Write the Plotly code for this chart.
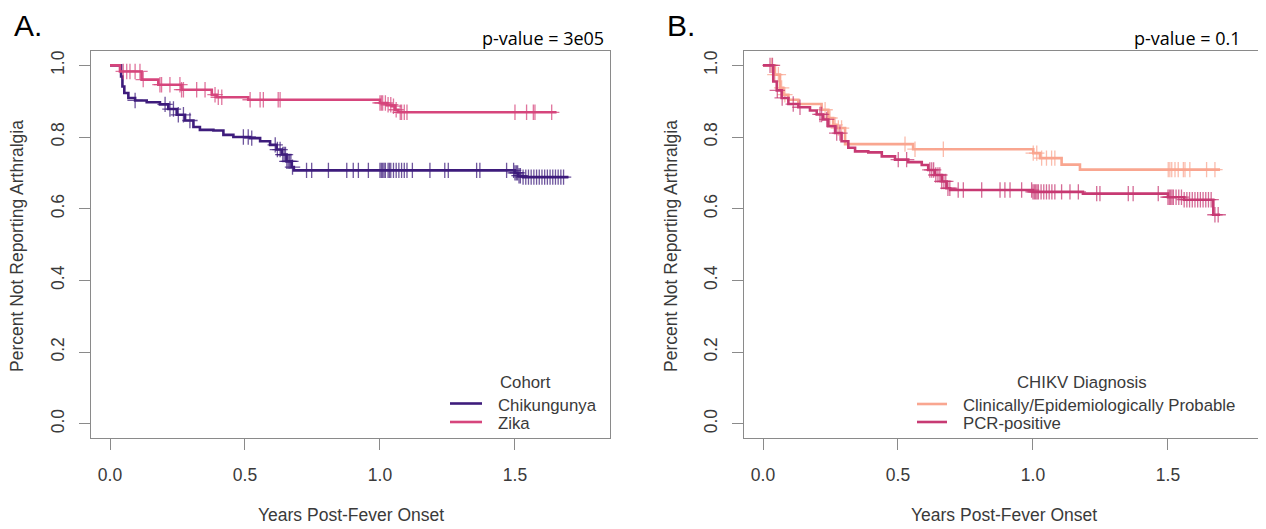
import plotly.graph_objects as go
import bisect

# ---------------- Panel A data (Cohort) ----------------
chik_t = [0.0, 0.037, 0.041, 0.046, 0.053, 0.068, 0.093, 0.136, 0.185, 0.216, 0.247, 0.278,
          0.309, 0.333, 0.383, 0.420, 0.457, 0.519, 0.556, 0.593, 0.617, 0.636, 0.654, 0.673,
          0.681, 1.500, 1.512, 1.530, 1.698]
chik_s = [1.0, 1.0, 0.969, 0.941, 0.923, 0.909, 0.902, 0.897, 0.891, 0.878, 0.862, 0.846,
          0.828, 0.820, 0.818, 0.806, 0.800, 0.797, 0.788, 0.778, 0.765, 0.751, 0.732, 0.716,
          0.707, 0.700, 0.692, 0.688, 0.688]
chik_cens = [0.093, 0.204, 0.222, 0.235, 0.253, 0.272, 0.296, 0.494, 0.512, 0.525,
             0.612, 0.620, 0.630, 0.640, 0.645, 0.650, 0.655, 0.660, 0.665, 0.670, 0.676,
             0.728, 0.747, 0.809, 0.877, 0.901, 0.920, 0.957,
             1.000, 1.005, 1.010, 1.015, 1.020, 1.030, 1.035, 1.040, 1.050, 1.060, 1.070,
             1.080, 1.090, 1.100, 1.120, 1.185, 1.240, 1.253, 1.358, 1.370, 1.469,
             1.495, 1.500, 1.505, 1.510, 1.515, 1.520, 1.530, 1.540, 1.550, 1.560, 1.570,
             1.580, 1.590, 1.600, 1.610, 1.620, 1.630, 1.640, 1.650, 1.660, 1.670, 1.680]

zika_t = [0.0, 0.037, 0.117, 0.179, 0.265, 0.377, 0.395, 0.512, 1.000, 1.025, 1.043, 1.056,
          1.068, 1.654]
zika_s = [1.0, 0.983, 0.960, 0.946, 0.932, 0.918, 0.911, 0.904, 0.895, 0.890, 0.886, 0.876,
          0.869, 0.869]
zika_cens = [0.049, 0.062, 0.074, 0.093, 0.111, 0.123, 0.185, 0.191, 0.222, 0.259, 0.265,
             0.272, 0.321, 0.352, 0.389, 0.401, 0.414, 0.519, 0.556, 0.568, 0.623, 0.630,
             1.000, 1.005, 1.010, 1.020, 1.030, 1.040, 1.050, 1.060, 1.075, 1.080, 1.090,
             1.100, 1.500, 1.543, 1.568, 1.574, 1.636]

# ---------------- Panel B data (CHIKV Diagnosis) ----------------
clin_t = [0.0, 0.038, 0.044, 0.063, 0.075, 0.094, 0.131, 0.217, 0.242, 0.260, 0.272, 0.304,
          0.556, 1.001, 1.026, 1.106, 1.174, 1.693]
clin_s = [1.0, 1.0, 0.974, 0.937, 0.918, 0.904, 0.892, 0.876, 0.853, 0.834, 0.825, 0.780,
          0.766, 0.755, 0.741, 0.723, 0.709, 0.709]
clin_cens = [0.032, 0.044, 0.057, 0.069, 0.081, 0.230, 0.248, 0.267, 0.279, 0.291, 0.526,
             0.563, 0.668, 1.001, 1.014, 1.032, 1.050, 1.069, 1.081, 1.501, 1.507, 1.514,
             1.526, 1.538, 1.557, 1.563, 1.581, 1.643, 1.674]

pcr_t = [0.0, 0.031, 0.038, 0.051, 0.069, 0.094, 0.131, 0.174, 0.199, 0.223, 0.242, 0.267,
         0.291, 0.316, 0.341, 0.390, 0.440, 0.489, 0.538, 0.588, 0.612, 0.637, 0.662, 0.680,
         0.693, 1.000, 1.185, 1.500, 1.560, 1.668, 1.693]
pcr_s = [1.0, 1.0, 0.955, 0.930, 0.909, 0.892, 0.883, 0.874, 0.863, 0.849, 0.830, 0.811,
         0.788, 0.770, 0.760, 0.757, 0.746, 0.737, 0.730, 0.722, 0.708, 0.694, 0.676, 0.657,
         0.652, 0.647, 0.642, 0.632, 0.625, 0.583, 0.583]
pcr_cens = [0.026, 0.035, 0.053, 0.071, 0.112, 0.137, 0.211, 0.217, 0.236, 0.273, 0.285,
            0.501, 0.532, 0.618, 0.625, 0.632, 0.640, 0.648, 0.655, 0.662, 0.670, 0.677,
            0.685, 0.692, 0.723, 0.742, 0.810, 0.878, 0.896, 0.915, 0.958,
            0.995, 1.000, 1.005, 1.010, 1.015, 1.020, 1.030, 1.040, 1.050, 1.060, 1.070,
            1.081, 1.106, 1.137, 1.168, 1.236, 1.248, 1.353, 1.371, 1.464,
            1.500, 1.505, 1.510, 1.515, 1.520, 1.530, 1.540, 1.550, 1.560, 1.570, 1.580,
            1.590, 1.600, 1.610, 1.620, 1.630, 1.640, 1.650, 1.660, 1.674, 1.686]

x_ticks = [0.0, 0.5, 1.0, 1.5]
x_tick_text = ["0.0", "0.5", "1.0", "1.5"]
y_ticks = [0.0, 0.2, 0.4, 0.6, 0.8, 1.0]
y_tick_text = ["0.0", "0.2", "0.4", "0.6", "0.8", "1.0"]

C_CHIK = "#3e1c7c"
C_ZIKA = "#d6457c"
C_CLIN = "#f9a690"
C_PCR = "#c73a73"

# page body has an 8px margin: figure is placed at (8, 8) in the 1266x529 window
OFF = 8
W, H = 1266 - OFF, 529 - OFF
FONT = "Liberation Sans, Arial, sans-serif"
TXT = "#3a3a3a"
GREY = "#8a8a8a"


def px(x):
    return (x - OFF) / W


def py(y):
    return (H - (y - OFF)) / H


def step_at(ts, ss, t):
    i = bisect.bisect_right(ts, t) - 1
    return ss[max(i, 0)]


def rgba(hexc, a):
    h = hexc.lstrip("#")
    return "rgba(%d,%d,%d,%.2f)" % (int(h[0:2], 16), int(h[2:4], 16), int(h[4:6], 16), a)


fig = go.Figure()


def add_curve(ts, ss, cens, color, name, xa, ya):
    fig.add_trace(go.Scatter(x=ts, y=ss, mode="lines", line=dict(color=color, width=2.6, shape="hv"),
                             name=name, xaxis=xa, yaxis=ya, showlegend=False))
    fig.add_trace(go.Scatter(x=cens, y=[step_at(ts, ss, c) for c in cens], mode="markers",
                             marker=dict(symbol="cross-thin", size=11,
                                         line=dict(color=rgba(color, 0.75), width=1.3)),
                             showlegend=False, hoverinfo="skip", xaxis=xa, yaxis=ya))


add_curve(chik_t, chik_s, chik_cens, C_CHIK, "Chikungunya", "x", "y")
add_curve(zika_t, zika_s, zika_cens, C_ZIKA, "Zika", "x", "y")
add_curve(clin_t, clin_s, clin_cens, C_CLIN, "Clinically/Epidemiologically Probable", "x2", "y2")
add_curve(pcr_t, pcr_s, pcr_cens, C_PCR, "PCR-positive", "x2", "y2")

xa_common = dict(range=[-0.0704, 1.852], tickvals=x_ticks, ticktext=x_tick_text, ticks="outside",
                 ticklen=11, tickcolor=GREY, tickwidth=1.2, showline=True, mirror=True,
                 linecolor=GREY, linewidth=1.3, showgrid=False, zeroline=False,
                 tickfont=dict(family=FONT, size=17.5, color=TXT), ticklabelstandoff=10)
ya_common = dict(range=[-0.04, 1.04], tickvals=y_ticks, ticktext=y_tick_text, ticks="outside",
                 ticklen=11, tickcolor=GREY, tickwidth=1.2, showline=True, mirror=True,
                 linecolor=GREY, linewidth=1.3, showgrid=False, zeroline=False, tickangle=-90,
                 tickfont=dict(family=FONT, size=17.5, color=TXT), ticklabelstandoff=8,
                 domain=[py(438), py(51)])

fig.update_layout(
    width=W, height=H, margin=dict(l=0, r=0, t=0, b=0),
    paper_bgcolor="white", plot_bgcolor="white",
    xaxis=dict(domain=[px(91), px(610)], anchor="y", **xa_common),
    yaxis=dict(anchor="x", **ya_common),
    xaxis2=dict(domain=[px(744), px(1263)], anchor="y2", **xa_common),
    yaxis2=dict(anchor="x2", **ya_common),
    showlegend=False,
)

# legend entries (title, then name/colour rows)
legend_a = [("Chikungunya", C_CHIK, 403.5), ("Zika", C_ZIKA, 422)]
legend_b = [("Clinically/Epidemiologically Probable", C_CLIN, 404), ("PCR-positive", C_PCR, 422)]
LEG_SIZE = 16.8

shapes = []
annots = []


def add_legend(title, title_x, entries, line_x0, line_x1, text_x):
    annots.append(dict(text=title, x=px(title_x), y=py(382.5), xanchor="center", yanchor="middle",
                       font=dict(family=FONT, size=LEG_SIZE, color=TXT)))
    for name, col, yy in entries:
        shapes.append(dict(type="line", xref="paper", yref="paper", x0=px(line_x0), x1=px(line_x1),
                           y0=py(yy), y1=py(yy), line=dict(color=col, width=2.6)))
        annots.append(dict(text=name, x=px(text_x), y=py(yy + 1.5), xanchor="left", yanchor="middle",
                           font=dict(family=FONT, size=LEG_SIZE, color=TXT)))


add_legend("Cohort", 525, legend_a, 450, 482, 496)
add_legend("CHIKV Diagnosis", 1082, legend_b, 917, 947, 961)

annots += [
    dict(text="A.", x=px(12), y=py(26), xanchor="left", yanchor="middle",
         font=dict(family=FONT, size=30, color="black")),
    dict(text="B.", x=px(665), y=py(26), xanchor="left", yanchor="middle",
         font=dict(family=FONT, size=30, color="black")),
    dict(text="p-value = 3e05", x=px(606), y=py(38), xanchor="right", yanchor="middle",
         font=dict(family="Open Sans, sans-serif", size=18, color="black")),
    dict(text="p-value = 0.1", x=px(1242), y=py(38), xanchor="right", yanchor="middle",
         font=dict(family="Open Sans, sans-serif", size=18, color="black")),
    dict(text="Years Post-Fever Onset", x=px(350.5), y=py(515), xanchor="center", yanchor="middle",
         font=dict(family=FONT, size=17.5, color=TXT)),
    dict(text="Years Post-Fever Onset", x=px(1003.5), y=py(515), xanchor="center", yanchor="middle",
         font=dict(family=FONT, size=17.5, color=TXT)),
    dict(text="Percent Not Reporting Arthralgia", x=px(17), y=py(246), textangle=-90,
         xanchor="center", yanchor="middle", font=dict(family=FONT, size=17.5, color=TXT)),
    dict(text="Percent Not Reporting Arthralgia", x=px(671), y=py(246), textangle=-90,
         xanchor="center", yanchor="middle", font=dict(family=FONT, size=17.5, color=TXT)),
]
for a in annots:
    a.update(xref="paper", yref="paper", showarrow=False)
fig.update_layout(annotations=annots, shapes=shapes)

fig.write_html("out.html")
